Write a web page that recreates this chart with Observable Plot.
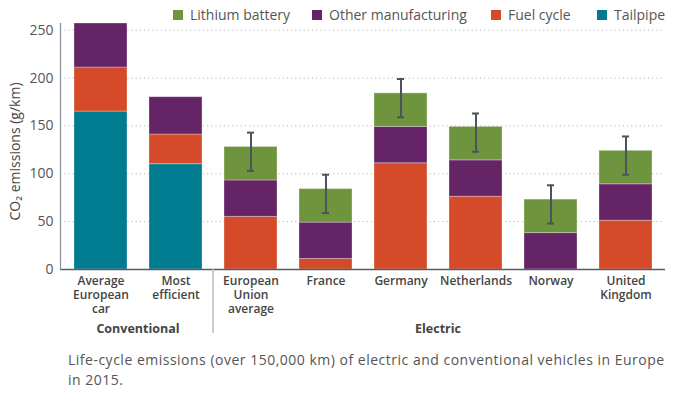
<!DOCTYPE html>
<html>
<head>
<meta charset="utf-8">
<script src="https://cdn.jsdelivr.net/npm/d3@7"></script>
<script src="https://cdn.jsdelivr.net/npm/@observablehq/plot@0.6"></script>
<style>
  html, body { margin: 0; padding: 0; background: #fff; }
  #wrap { position: relative; width: 676px; height: 394px; font-family: "Open Sans", sans-serif; }
  #legend { position: absolute; top: 5px; left: 0; width: 676px; height: 22px; }
  .item { position: absolute; top: 0; display: flex; align-items: center; font-size: 14px; color: #555; white-space: nowrap; }
  .sw { width: 10px; height: 10px; margin-right: 7px; }
  #caption { position: absolute; left: 68px; top: 350px; width: 600px; font-size: 14px; letter-spacing: 0.5px; line-height: 20px; color: #555; margin: 0; }
</style>
</head>
<body>
<div id="wrap">
  <div id="chart"></div>
  <div id="legend"></div>
  <p id="caption">Life-cycle emissions (over 150,000 km) of electric and conventional vehicles in Europe in 2015.</p>
</div>
<script>
const categories = ["Average European car", "Most efficient", "European Union average", "France", "Germany", "Netherlands", "Norway", "United Kingdom"];
const tickLabels = ["Average\nEuropean\ncar", "Most\nefficient", "European\nUnion\naverage", "France", "Germany", "Netherlands", "Norway", "United\nKingdom"];
const groups = ["Conventional", "Conventional", "Electric", "Electric", "Electric", "Electric", "Electric", "Electric"];
const seriesNames = ["Tailpipe", "Fuel cycle", "Other manufacturing", "Lithium battery"];
const seriesColors = ["#007b8f", "#d54a28", "#652466", "#6e953d"];
const tailpipe = [165, 110, 0, 0, 0, 0, 0, 0];
const fuelCycle = [46, 31, 55, 11, 111, 76, 0, 51];
const otherManufacturing = [46, 39, 38, 38, 38, 38, 38, 38];
const lithiumBattery = [0, 0, 35, 35, 35, 35, 35, 35];
const errorLow = [null, null, 103, 59, 159, 123, 48, 99];
const errorHigh = [null, null, 143, 99, 199, 163, 88, 139];
const yTicks = [0, 50, 100, 150, 200, 250];
const legendOrder = ["Lithium battery", "Other manufacturing", "Fuel cycle", "Tailpipe"];
const legendLeft = [173, 312, 491, 597];

const seriesValues = [tailpipe, fuelCycle, otherManufacturing, lithiumBattery];
const rows = [];
categories.forEach((c, i) => {
  seriesNames.forEach((s, k) => {
    if (seriesValues[k][i] > 0) rows.push({category: c, series: s, value: seriesValues[k][i]});
  });
});
const errRows = categories.map((c, i) => ({category: c, low: errorLow[i], high: errorHigh[i]})).filter(d => d.low != null);
const labelOf = new Map(categories.map((c, i) => [c, tickLabels[i]]));

const axisColor = "#555b61";
const plot = Plot.plot({
  width: 676,
  height: 340,
  marginTop: 23,
  marginBottom: 71,
  marginLeft: 60,
  marginRight: 11,
  style: {fontFamily: "Open Sans, sans-serif", background: "#fff"},
  x: {domain: categories, paddingInner: 0.3, paddingOuter: 0.15, label: null, axis: null},
  y: {domain: [0, 257], label: null, axis: null},
  color: {domain: seriesNames, range: seriesColors},
  marks: [
    Plot.gridY(yTicks.filter(t => t > 0), {stroke: "#b5b5b5", strokeOpacity: 1, strokeDasharray: "1.2,3"}),
    Plot.barY(rows, {x: "category", y: "value", fill: "series", stroke: "#fff", strokeOpacity: 0.3, strokeWidth: 1}),
    Plot.ruleX(errRows, {x: "category", y1: "low", y2: "high", stroke: "#4b545c", strokeWidth: 2}),
    Plot.tickY(errRows, {x: "category", y: "low", stroke: "#4b545c", strokeWidth: 2, insetLeft: 23, insetRight: 23}),
    Plot.tickY(errRows, {x: "category", y: "high", stroke: "#4b545c", strokeWidth: 2, insetLeft: 23, insetRight: 23}),
    Plot.ruleY([0], {stroke: axisColor, strokeWidth: 1.5}),
    Plot.frame({anchor: "left", stroke: "#8a9096", strokeWidth: 1.2}),
    Plot.axisY({ticks: yTicks, tickSize: 0, tickPadding: 7, fontSize: 14, fill: "#555", tickFormat: d => d}),
    Plot.axisX({tickSize: 0, tickPadding: 6, fontSize: 12, fontWeight: 600, fill: "#444", lineHeight: 1.14, tickFormat: d => labelOf.get(d)}),
    Plot.text(["CO₂ emissions (g/km)"], {frameAnchor: "left", rotate: -90, textAnchor: "middle", dx: -45, dy: 5, fontSize: 14, fontWeight: 500, fill: "#444"})
  ]
});
document.getElementById("chart").appendChild(plot);

// group labels and separator, positioned with the plot's own x scale
const xs = plot.scale("x");
const ys = plot.scale("y");
const svg = d3.select(plot);
const y0 = ys.apply(0);
const groupNames = [...new Set(groups)];
groupNames.forEach((gname, gi) => {
  const cats = categories.filter((c, i) => groups[i] === gname);
  const x0 = xs.apply(cats[0]);
  const x1 = xs.apply(cats[cats.length - 1]) + xs.bandwidth;
  svg.append("text")
    .attr("x", (x0 + x1) / 2).attr("y", y0 + 64)
    .attr("text-anchor", "middle")
    .attr("font-size", 12.5).attr("font-weight", 700).attr("fill", "#444")
    .text(gname);
  if (gi > 0) {
    const sx = x0 - (xs.step - xs.bandwidth) / 2;
    svg.append("line")
      .attr("x1", sx).attr("x2", sx).attr("y1", y0).attr("y2", y0 + 64)
      .attr("stroke", "#b9bcbf").attr("stroke-width", 1.5);
  }
});

// legend
const legend = d3.select("#legend");
legendOrder.forEach((name, i) => {
  const item = legend.append("div").attr("class", "item").style("left", legendLeft[i] + "px");
  item.append("div").attr("class", "sw").style("background", seriesColors[seriesNames.indexOf(name)]);
  item.append("span").text(name);
});
</script>
</body>
</html>
